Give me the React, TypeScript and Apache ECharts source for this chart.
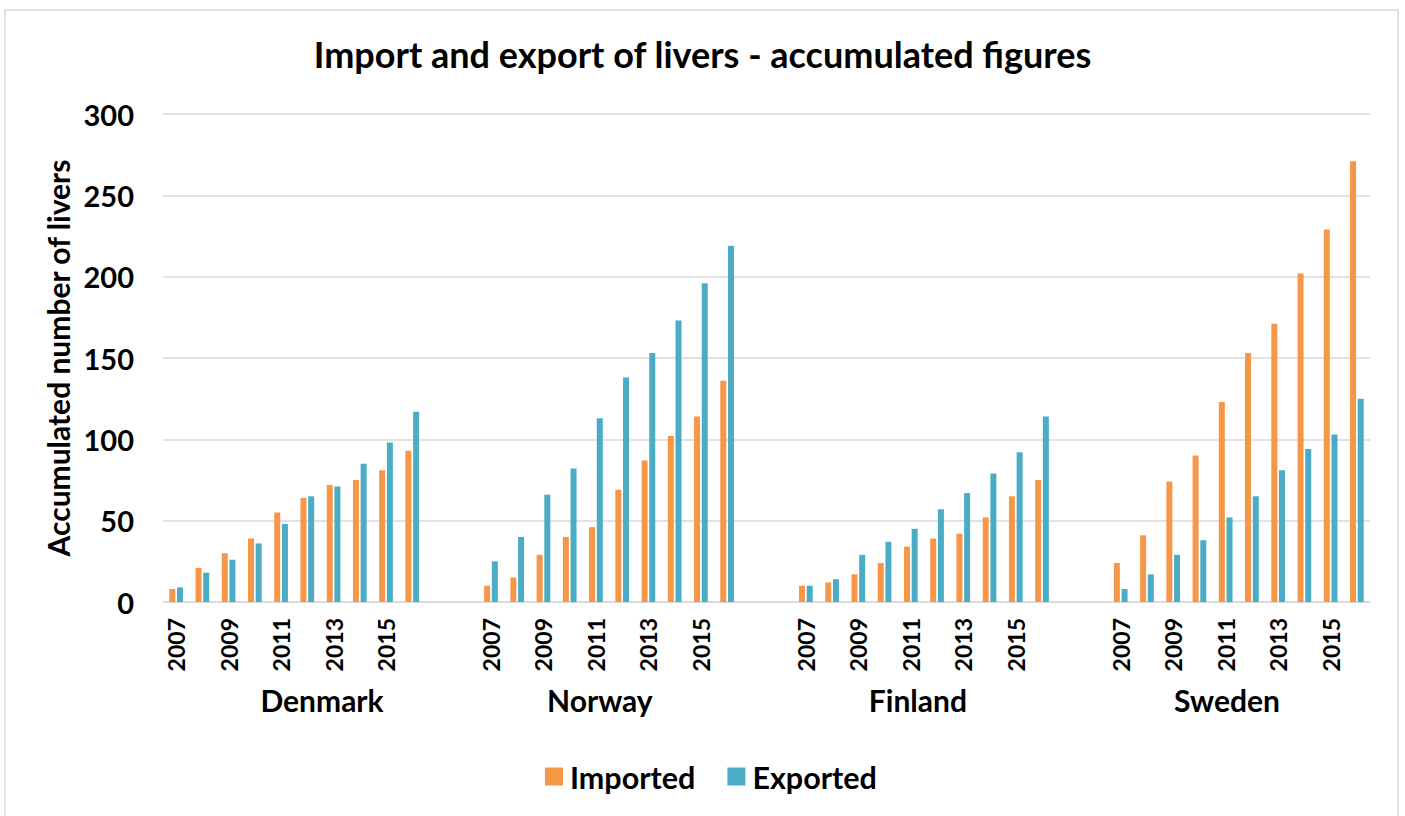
import React, { useEffect, useRef } from "react";
import * as echarts from "echarts";

const years = ["2007", "2008", "2009", "2010", "2011", "2012", "2013", "2014", "2015", "2016"];
const countries = ["Denmark", "Norway", "Finland", "Sweden"];
const labelledYears = ["2007", "2009", "2011", "2013", "2015"];

const importedDenmark = [8, 21, 30, 39, 55, 64, 72, 75, 81, 93];
const exportedDenmark = [9, 18, 26, 36, 48, 65, 71, 85, 98, 117];
const importedNorway = [10, 15, 29, 40, 46, 69, 87, 102, 114, 136];
const exportedNorway = [25, 40, 66, 82, 113, 138, 153, 173, 196, 219];
const importedFinland = [10, 12, 17, 24, 34, 39, 42, 52, 65, 75];
const exportedFinland = [10, 14, 29, 37, 45, 57, 67, 79, 92, 114];
const importedSweden = [24, 41, 74, 90, 123, 153, 171, 202, 229, 271];
const exportedSweden = [8, 17, 29, 38, 52, 65, 81, 94, 103, 125];

const yTicks = [0, 50, 100, 150, 200, 250, 300];

// group label centres, in category units along the axis
const countryLabelCentres = [6.06, 16.65, 28.77, 40.55];

const FONT = "Lato";

export default function App() {
  const ref = useRef<HTMLDivElement>(null);

  useEffect(() => {
    if (!ref.current) return;
    const chart = echarts.init(ref.current, null, { renderer: "svg" });

    const importedByCountry = [importedDenmark, importedNorway, importedFinland, importedSweden];
    const exportedByCountry = [exportedDenmark, exportedNorway, exportedFinland, exportedSweden];

    const categories: string[] = [];
    const imported: (number | null)[] = [];
    const exported: (number | null)[] = [];
    countries.forEach((c, ci) => {
      years.forEach((y, yi) => {
        categories.push(c + "|" + y);
        imported.push(importedByCountry[ci][yi]);
        exported.push(exportedByCountry[ci][yi]);
      });
      if (ci < countries.length - 1) {
        for (let g = 0; g < 2; g++) {
          categories.push("gap|" + ci + "|" + g);
          imported.push(null);
          exported.push(null);
        }
      }
    });

    const nCat = categories.length;

    chart.setOption({
      animation: false,
      backgroundColor: "#ffffff",
      title: {
        text: "Import and export of livers - accumulated figures",
        left: "center",
        top: 31,
        textStyle: { fontFamily: FONT, fontWeight: "bold", fontSize: 36, color: "#000" },
      },
      graphic: [
        {
          type: "rect",
          shape: { x: 5, y: 10, width: 1393, height: 830 },
          style: { fill: "none", stroke: "#d9d9d9", lineWidth: 1.5 },
          silent: true,
          z: -1,
        },
      ],
      legend: {
        bottom: 19,
        left: 540,
        itemWidth: 18,
        itemHeight: 18,
        itemGap: 32,
        icon: "rect",
        textStyle: { fontFamily: FONT, fontWeight: "bold", fontSize: 30.5, color: "#000", padding: [0, 0, 0, 2] },
        data: ["Imported", "Exported"],
      },
      grid: { left: 163, right: 35, top: 114, bottom: 214 },
      xAxis: [
        {
          type: "category",
          data: categories,
          axisLine: { show: true, lineStyle: { color: "#d9d9d9", width: 1.5 } },
          axisTick: { show: false },
          axisLabel: {
            interval: 0,
            rotate: 90,
            margin: 16,
            fontFamily: FONT,
            fontWeight: "bold",
            fontSize: 23,
            color: "#000",
            formatter: (v: string) => {
              const parts = v.split("|");
              if (parts[0] === "gap") return "";
              return labelledYears.indexOf(parts[1]) >= 0 ? parts[1] : "";
            },
          },
        },
        {
          type: "value",
          position: "bottom",
          min: 0,
          max: nCat,
          offset: 75,
          axisLine: { show: false },
          axisTick: { show: false },
          splitLine: { show: false },
          axisLabel: {
            customValues: countryLabelCentres,
            fontFamily: FONT,
            fontWeight: "bold",
            fontSize: 30,
            color: "#000",
            formatter: (v: number) => {
              let best = 0;
              countryLabelCentres.forEach((c, i) => {
                if (Math.abs(c - v) < Math.abs(countryLabelCentres[best] - v)) best = i;
              });
              return countries[best];
            },
          },
        },
      ],
      yAxis: {
        type: "value",
        min: yTicks[0],
        max: yTicks[yTicks.length - 1],
        interval: 50,
        name: "Accumulated number of livers",
        nameLocation: "middle",
        nameGap: 87,
        nameTextStyle: { fontFamily: FONT, fontWeight: "bold", fontSize: 30, color: "#000" },
        axisLine: { show: false },
        axisTick: { show: false },
        axisLabel: { margin: 29, fontFamily: FONT, fontWeight: "bold", fontSize: 29, color: "#000" },
        splitLine: { lineStyle: { color: "#d9d9d9", width: 1.5 } },
      },
      series: [
        {
          name: "Imported",
          type: "bar",
          data: imported,
          barWidth: 6,
          barGap: "28%",
          itemStyle: { color: "#F79646" },
        },
        {
          name: "Exported",
          type: "bar",
          data: exported,
          barWidth: 6,
          barGap: "28%",
          itemStyle: { color: "#4BACC6" },
        },
      ],
    });

    return () => chart.dispose();
  }, []);

  return (
    <div
      ref={ref}
      style={{ position: "fixed", left: 0, top: 0, width: 1405, height: 816, background: "#fff" }}
    />
  );
}
